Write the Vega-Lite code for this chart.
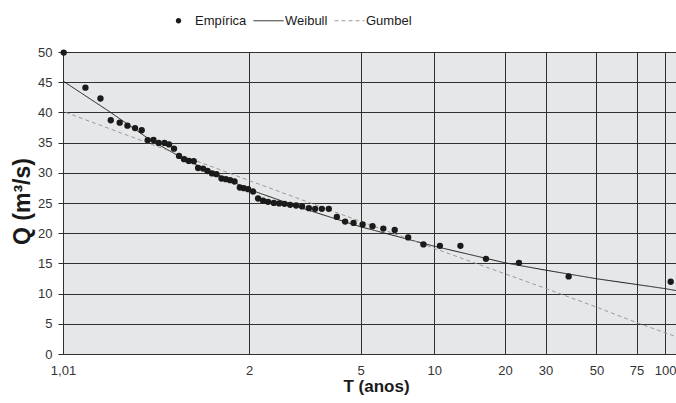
{
  "$schema": "https://vega.github.io/schema/vega-lite/v6.json",
  "width": 613,
  "height": 302,
  "autosize": {"type": "none"},
  "padding": {"left": 63, "top": 52, "right": 0, "bottom": 49},
  "background": "#ffffff",
  "config": {
    "font": "Liberation Sans",
    "view": {"fill": "#e6e7e9", "stroke": null},
    "axis": {
      "gridColor": "#303030",
      "gridWidth": 1,
      "gridOpacity": 1,
      "domainColor": "#303030",
      "domainWidth": 1,
      "tickColor": "#303030",
      "labelFont": "Liberation Sans",
      "labelFontSize": 13,
      "labelColor": "#333333",
      "titleFont": "Liberation Sans",
      "titleFontWeight": "bold",
      "titleColor": "#1a1a1a"
    }
  },
  "datasets": {
    "emp": [
      {"serie": "Empírica", "u": -1.522, "Q": 49.9},
      {"serie": "Empírica", "u": -1.301, "Q": 44.1},
      {"serie": "Empírica", "u": -1.148, "Q": 42.3},
      {"serie": "Empírica", "u": -1.043, "Q": 38.7},
      {"serie": "Empírica", "u": -0.952, "Q": 38.3},
      {"serie": "Empírica", "u": -0.873, "Q": 37.8},
      {"serie": "Empírica", "u": -0.796, "Q": 37.4},
      {"serie": "Empírica", "u": -0.728, "Q": 37.05},
      {"serie": "Empírica", "u": -0.667, "Q": 35.4},
      {"serie": "Empírica", "u": -0.608, "Q": 35.45},
      {"serie": "Empírica", "u": -0.555, "Q": 34.95},
      {"serie": "Empírica", "u": -0.496, "Q": 34.95},
      {"serie": "Empírica", "u": -0.45, "Q": 34.7},
      {"serie": "Empírica", "u": -0.399, "Q": 34.0},
      {"serie": "Empírica", "u": -0.348, "Q": 32.8},
      {"serie": "Empírica", "u": -0.297, "Q": 32.25},
      {"serie": "Empírica", "u": -0.249, "Q": 31.97},
      {"serie": "Empírica", "u": -0.198, "Q": 31.92},
      {"serie": "Empírica", "u": -0.154, "Q": 30.8},
      {"serie": "Empírica", "u": -0.103, "Q": 30.7},
      {"serie": "Empírica", "u": -0.058, "Q": 30.3},
      {"serie": "Empírica", "u": -0.012, "Q": 29.9},
      {"serie": "Empírica", "u": 0.033, "Q": 29.77},
      {"serie": "Empírica", "u": 0.084, "Q": 29.06},
      {"serie": "Empírica", "u": 0.128, "Q": 28.94},
      {"serie": "Empírica", "u": 0.172, "Q": 28.78},
      {"serie": "Empírica", "u": 0.217, "Q": 28.56},
      {"serie": "Empírica", "u": 0.271, "Q": 27.57},
      {"serie": "Empírica", "u": 0.311, "Q": 27.46},
      {"serie": "Empírica", "u": 0.355, "Q": 27.29},
      {"serie": "Empírica", "u": 0.406, "Q": 26.91},
      {"serie": "Empírica", "u": 0.457, "Q": 25.75},
      {"serie": "Empírica", "u": 0.508, "Q": 25.39},
      {"serie": "Empírica", "u": 0.558, "Q": 25.19},
      {"serie": "Empírica", "u": 0.617, "Q": 25.02},
      {"serie": "Empírica", "u": 0.671, "Q": 24.93},
      {"serie": "Empírica", "u": 0.726, "Q": 24.86},
      {"serie": "Empírica", "u": 0.783, "Q": 24.69},
      {"serie": "Empírica", "u": 0.844, "Q": 24.59},
      {"serie": "Empírica", "u": 0.905, "Q": 24.43},
      {"serie": "Empírica", "u": 0.974, "Q": 24.15},
      {"serie": "Empírica", "u": 1.038, "Q": 24.03},
      {"serie": "Empírica", "u": 1.106, "Q": 24.03},
      {"serie": "Empírica", "u": 1.177, "Q": 24.03},
      {"serie": "Empírica", "u": 1.259, "Q": 22.69},
      {"serie": "Empírica", "u": 1.343, "Q": 21.92},
      {"serie": "Empírica", "u": 1.429, "Q": 21.7},
      {"serie": "Empírica", "u": 1.521, "Q": 21.45},
      {"serie": "Empírica", "u": 1.622, "Q": 21.17},
      {"serie": "Empírica", "u": 1.732, "Q": 20.76},
      {"serie": "Empírica", "u": 1.848, "Q": 20.54},
      {"serie": "Empírica", "u": 1.985, "Q": 19.3},
      {"serie": "Empírica", "u": 2.14, "Q": 18.14},
      {"serie": "Empírica", "u": 2.308, "Q": 17.91},
      {"serie": "Empírica", "u": 2.517, "Q": 17.91},
      {"serie": "Empírica", "u": 2.777, "Q": 15.76},
      {"serie": "Empírica", "u": 3.113, "Q": 15.1},
      {"serie": "Empírica", "u": 3.619, "Q": 12.85},
      {"serie": "Empírica", "u": 4.658, "Q": 11.96}
    ],
    "curves": [
      {"serie": "Weibull", "u": -1.5293, "Q": 45.2},
      {"serie": "Weibull", "u": -1.0536, "Q": 40.1},
      {"serie": "Weibull", "u": -0.6461, "Q": 35.5},
      {"serie": "Weibull", "u": -0.2998, "Q": 32.3},
      {"serie": "Weibull", "u": 0.3725, "Q": 27.2},
      {"serie": "Weibull", "u": 0.9328, "Q": 24.0},
      {"serie": "Weibull", "u": 1.493, "Q": 21.1},
      {"serie": "Weibull", "u": 2.2366, "Q": 17.9},
      {"serie": "Weibull", "u": 2.97, "Q": 15.1},
      {"serie": "Weibull", "u": 3.3775, "Q": 13.9},
      {"serie": "Weibull", "u": 3.9072, "Q": 12.45},
      {"serie": "Weibull", "u": 4.3147, "Q": 11.5},
      {"serie": "Weibull", "u": 4.6101, "Q": 10.8},
      {"serie": "Weibull", "u": 4.7119, "Q": 10.5},
      {"serie": "Gumbel", "u": -1.502, "Q": 40.0},
      {"serie": "Gumbel", "u": 0.362, "Q": 28.75},
      {"serie": "Gumbel", "u": 2.2397, "Q": 17.55},
      {"serie": "Gumbel", "u": 3.3775, "Q": 10.9},
      {"serie": "Gumbel", "u": 3.9042, "Q": 7.75},
      {"serie": "Gumbel", "u": 4.3117, "Q": 5.2},
      {"serie": "Gumbel", "u": 4.7119, "Q": 2.87}
    ]
  },
  "encoding": {
    "x": {
      "field": "u",
      "type": "quantitative",
      "scale": {"domain": [-1.5293, 4.7119], "nice": false, "zero": false},
      "axis": {
        "values": [-1.5293, 0.3665, 1.4999, 2.2504, 2.9702, 3.3843, 3.9019, 4.3108, 4.6001],
        "labelExpr": "datum.value < -1 ? '1,01' : datum.value < 1 ? '2' : datum.value < 2 ? '5' : datum.value < 2.6 ? '10' : datum.value < 3.2 ? '20' : datum.value < 3.6 ? '30' : datum.value < 4.1 ? '50' : datum.value < 4.45 ? '75' : '100'",
        "grid": true,
        "ticks": false,
        "labelPadding": 10,
        "labelFlush": false,
        "labelOverlap": false,
        "title": "T  (anos)",
        "titleFontSize": 17,
        "titleX": 313,
        "titleY": 37,
        "titleBaseline": "alphabetic",
        "titleAnchor": "middle"
      }
    },
    "y": {
      "field": "Q",
      "type": "quantitative",
      "scale": {"domain": [0, 50], "nice": false},
      "axis": {
        "values": [0, 5, 10, 15, 20, 25, 30, 35, 40, 45, 50],
        "grid": true,
        "ticks": true,
        "tickSize": 5,
        "labelPadding": 6,
        "title": "Q (m³/s)",
        "titleFontSize": 23,
        "titleX": -41,
        "titleY": 149,
        "titleBaseline": "middle",
        "titleAnchor": "middle"
      }
    },
    "color": {
      "field": "serie",
      "type": "nominal",
      "scale": {"domain": ["Empírica", "Weibull", "Gumbel"], "range": ["#1a1a1a", "#1a1a1a", "#9a9a9a"]},
      "legend": {
        "orient": "none",
        "direction": "horizontal",
        "legendX": 109,
        "legendY": -38,
        "title": null,
        "padding": 0,
        "labelFontSize": 13,
        "labelColor": "#1a1a1a",
        "labelOffset": 10,
        "columnPadding": 4,
        "encode": {
          "symbols": {
            "update": {
              "shape": {"signal": "datum.value === 'Empírica' ? 'M-0.18,0A0.18,0.18,0,1,1,0.18,0A0.18,0.18,0,1,1,-0.18,0Z' : 'stroke'"},
              "size": {"value": 900},
              "fill": {"signal": "datum.value === 'Empírica' ? '#1a1a1a' : 'transparent'"},
              "stroke": {"signal": "datum.value === 'Gumbel' ? '#9a9a9a' : '#1a1a1a'"},
              "strokeDash": {"signal": "datum.value === 'Gumbel' ? [4, 3] : [1, 0]"},
              "strokeWidth": {"signal": "datum.value === 'Empírica' ? 0 : 1"},
              "opacity": {"value": 1}
            }
          }
        }
      }
    }
  },
  "layer": [
    {
      "data": {"name": "curves"},
      "mark": {"type": "line", "strokeWidth": 1},
      "encoding": {
        "strokeDash": {
          "field": "serie",
          "type": "nominal",
          "scale": {"domain": ["Weibull", "Gumbel"], "range": [[1, 0], [4, 3]]},
          "legend": null
        }
      }
    },
    {
      "data": {"name": "emp"},
      "mark": {"type": "circle", "size": 40, "opacity": 1}
    }
  ]
}
